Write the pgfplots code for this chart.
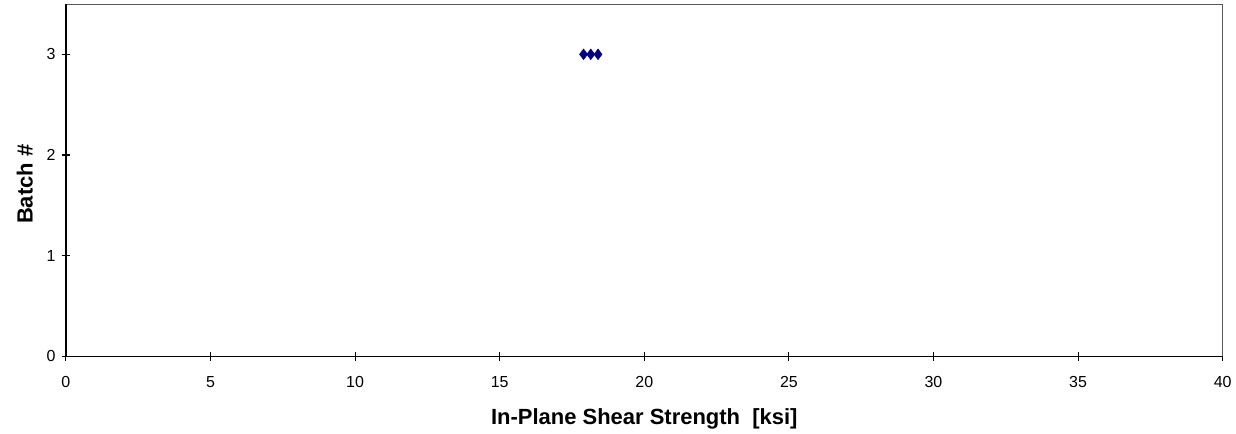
\documentclass[border=0pt]{standalone}
\usepackage{pgfplots}
\pgfplotsset{compat=1.18}
\usepackage{fontspec}
\setmainfont{Liberation Sans}
\begin{document}
\begin{tikzpicture}
\begin{axis}[
  at={(0,0)}, anchor=origin,
  scale only axis,
  width=869pt, height=264.75pt,
  xmin=0, xmax=40, ymin=0, ymax=3.5,
  xtick={0,5,...,40}, ytick={0,1,2,3},
  xtick pos=lower, ytick pos=left,
  axis line style={draw=none},
  tick align=center,
  major tick length=6.5pt,
  tick style={black, line width=0.8pt},
  /pgf/number format/assume math mode=true,
  ticklabel style={font=\fontsize{12}{14}\selectfont},
  xticklabel style={yshift=-8pt},
  yticklabel style={xshift=-1pt},
  xlabel={\bfseries In-Plane Shear Strength\ \ [ksi]},
  ylabel={\bfseries Batch \#},
  label style={font=\fontsize{16.5}{18}\selectfont},
  xlabel style={yshift=-9pt},
  ylabel style={yshift=3.5pt, xshift=-3pt},
  clip=false,
]
\draw[gray!70!black, line width=0.6pt] (axis cs:0,3.5) -- (axis cs:40,3.5) -- (axis cs:40,0);
\draw[black, line width=1pt] (axis cs:0,0) -- (axis cs:0,3.5);
\draw[black, line width=1pt] (axis cs:0,0) -- (axis cs:40,0);
\addplot[only marks, mark=diamond*, mark size=4pt, color={rgb,255:red,0;green,0;blue,128}] coordinates {
(17.9,3) (18.15,3) (18.4,3)
};
\end{axis}
\useasboundingbox (-49.5pt,-57pt) rectangle (877.5pt,267.75pt);
\end{tikzpicture}
\end{document}
